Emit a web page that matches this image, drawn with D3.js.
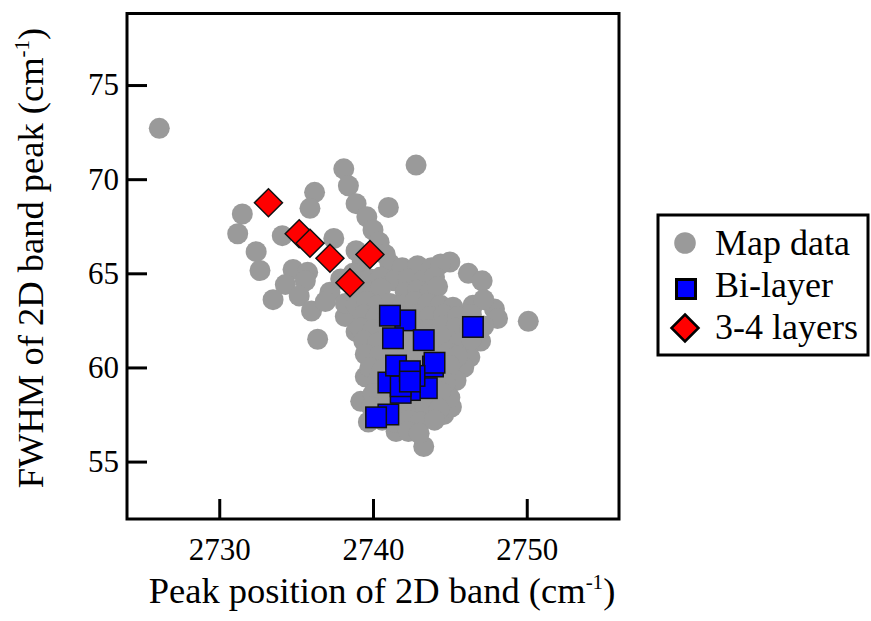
<!DOCTYPE html>
<html>
<head>
<meta charset="utf-8">
<script src="https://cdn.jsdelivr.net/npm/d3@7/dist/d3.min.js"></script>
<style>
  html, body { margin: 0; padding: 0; background: #fff; }
  svg { display: block; }
</style>
</head>
<body>
<svg id="chart" width="871" height="621"></svg>
<script>
// Raman 2D band: peak position vs FWHM
const xTicks = [2730, 2740, 2750];
const yTicks = [55, 60, 65, 70, 75];

const seriesNames = ["Map data", "Bi-layer", "3-4 layers"];

// [peak position, FWHM] for every mapped spot
const mapData = [
  [2726.1,72.7],
  [2738.1,70.55],[2742.8,70.75],[2738.4,69.65],[2738.9,68.7],[2736.2,69.3],[2735.9,68.45],[2741.0,68.5],
  [2731.5,68.15],[2731.2,67.1],[2734.1,67.0],[2737.45,66.85],[2732.4,66.15],[2732.65,65.15],[2734.8,65.2],[2735.75,65.05],
  [2734.3,64.4],[2735.6,64.6],[2733.5,63.6],[2735.2,63.8],[2736.0,63.0],[2736.4,61.5],[2737.2,64.0],[2736.9,63.5],[2738.2,62.7],[2738.9,61.9],
  [2739.6,68.0],[2740.0,67.3],[2740.4,66.65],[2740.8,66.0],[2741.1,65.5],[2738.9,66.2],[2739.3,65.6],[2738.7,65.0],[2737.9,64.7],[2738.2,63.4],
  [2745.0,65.6],[2746.2,65.0],[2747.1,64.6],[2746.5,63.3],[2747.9,63.1],[2748.1,62.6],[2750.1,62.45],[2747.0,61.4],[2746.3,60.55],[2745.9,60.0],[2745.4,59.3],
  [2743.3,55.8],[2739.7,57.1],[2739.2,58.2],[2739.5,59.5],[2741.5,56.6],[2744.6,57.5],[2745.1,57.9],[2745.0,58.4],
  [2741.9,65.3],[2742.9,65.4],[2743.8,65.3],[2744.4,65.5],
  [2739.8,64.7],[2740.5,64.8],[2741.4,64.6],[2742.3,64.7],[2743.2,64.6],[2744.0,64.8],
  [2739.0,64.1],[2739.8,64.0],[2740.5,64.2],[2742.1,64.0],[2742.9,64.1],[2743.7,64.0],[2744.2,64.3],
  [2738.9,63.3],[2739.6,63.5],[2740.3,63.3],[2741.1,63.4],[2741.9,63.3],[2742.7,63.5],[2743.6,63.4],[2744.4,63.3],[2745.2,63.2],[2747.2,63.6],
  [2739.4,62.8],[2740.2,62.7],[2741.0,62.9],[2741.9,62.7],[2742.8,62.8],[2743.7,62.7],[2744.6,62.8],[2745.5,62.7],[2746.4,62.8],
  [2739.2,62.1],[2740.0,62.0],[2740.9,62.2],[2741.8,62.0],[2742.7,62.1],[2743.6,62.0],[2744.5,62.2],[2745.4,62.1],[2746.3,62.0],[2747.2,62.2],
  [2739.4,61.4],[2740.3,61.3],[2741.2,61.5],[2742.1,61.3],[2743.0,61.4],[2743.9,61.3],[2744.8,61.5],[2745.6,61.3],[2746.4,61.5],
  [2739.5,60.7],[2740.4,60.6],[2741.3,60.8],[2742.2,60.6],[2743.1,60.7],[2744.0,60.6],[2744.9,60.8],[2745.5,60.6],
  [2739.8,60.0],[2740.6,59.9],[2741.5,60.1],[2742.4,59.9],[2743.3,60.0],[2744.2,59.9],[2745.0,60.1],
  [2740.3,59.3],[2741.2,59.2],[2742.1,59.4],[2743.0,59.2],[2743.9,59.3],[2744.7,59.2],
  [2740.0,58.6],[2740.9,58.7],[2741.8,58.5],[2742.7,58.6],[2743.6,58.5],[2744.4,58.7],
  [2739.9,57.9],[2740.7,57.8],[2741.6,57.9],[2742.5,57.8],[2743.4,57.9],[2744.3,57.8],
  [2740.6,57.2],[2741.4,57.1],[2742.3,57.2],[2743.1,57.1],[2744.0,57.2],
  [2742.3,56.6],[2743.0,56.5]
];

// bi-layer spots
const bilayerData = [
  [2742.1,62.5],[2741.1,62.75],[2743.3,61.45],[2741.3,61.55],[2746.5,62.15],
  [2743.9,60.05],[2744.0,60.25],[2743.5,58.9],[2742.4,58.8],[2741.8,58.65],
  [2741.0,59.2],[2741.8,59.0],[2742.7,59.55],[2741.5,60.1],[2742.4,59.8],[2742.4,59.25],
  [2741.0,57.5],[2740.2,57.35]
];

// 3-4 layer spots
const layers34Data = [
  [2733.2,68.75],[2735.2,67.1],[2735.9,66.6],[2737.2,65.8],[2739.8,66.0],[2738.5,64.5]
];

const FONT = "'Liberation Serif', Tinos, 'Times New Roman', Times, 'DejaVu Serif', serif";

const svg = d3.select("#chart");
const plot = { left: 127, top: 13.5, right: 619, bottom: 519 };

const x = d3.scaleLinear().domain([2724, 2756]).range([plot.left, plot.right]);
const y = d3.scaleLinear().domain([51.95, 78.8]).range([plot.bottom, plot.top]);

// markers
const gMarks = svg.append("g");
gMarks.selectAll("circle.map").data(mapData).join("circle")
  .attr("class", "map")
  .attr("cx", d => x(d[0])).attr("cy", d => y(d[1]))
  .attr("r", 10.5).attr("fill", "#9a9a9a");

const sq = 20.5;
gMarks.selectAll("rect.bi").data(bilayerData).join("rect")
  .attr("class", "bi")
  .attr("x", d => x(d[0]) - sq / 2).attr("y", d => y(d[1]) - sq / 2)
  .attr("width", sq).attr("height", sq)
  .attr("fill", "#0000ff").attr("stroke", "#111").attr("stroke-width", 1.5);

const dh = 14;
const diamond = (cx, cy, h) => `M${cx},${cy - h}L${cx + h},${cy}L${cx},${cy + h}L${cx - h},${cy}Z`;
gMarks.selectAll("path.tri").data(layers34Data).join("path")
  .attr("class", "tri")
  .attr("d", d => diamond(x(d[0]), y(d[1]), dh))
  .attr("fill", "#ff0000").attr("stroke", "#111").attr("stroke-width", 1.5);

// axes (ticks pointing inward)
const xAxis = d3.axisBottom(x).tickValues(xTicks).tickFormat(d3.format("d"))
  .tickSizeInner(-20).tickSizeOuter(0).tickPadding(19);
const yAxis = d3.axisLeft(y).tickValues(yTicks).tickFormat(d3.format("d"))
  .tickSizeInner(-20).tickSizeOuter(0).tickPadding(8);

const gx = svg.append("g").attr("transform", `translate(0,${plot.bottom})`).call(xAxis);
const gy = svg.append("g").attr("transform", `translate(${plot.left},0)`).call(yAxis);
[gx, gy].forEach(g => {
  g.attr("font-family", null).attr("font-size", null);
  g.select(".domain").remove();
  g.selectAll(".tick line").attr("stroke", "#000").attr("stroke-width", 3);
  g.selectAll(".tick text").attr("font-size", 31).attr("fill", "#000");
});

// frame
svg.append("rect")
  .attr("x", plot.left).attr("y", plot.top)
  .attr("width", plot.right - plot.left).attr("height", plot.bottom - plot.top)
  .attr("fill", "none").attr("stroke", "#000").attr("stroke-width", 3);

// axis titles
const xTitle = svg.append("text")
  .attr("x", 382).attr("y", 603).attr("text-anchor", "middle").attr("font-size", 36.5);
xTitle.append("tspan").text("Peak position of 2D band (cm");
xTitle.append("tspan").attr("font-size", 21).attr("dy", -14).text("-1");
xTitle.append("tspan").attr("dy", 14).text(")");

const yTitle = svg.append("text")
  .attr("transform", "translate(43,258) rotate(-90)")
  .attr("text-anchor", "middle").attr("font-size", 36.5);
yTitle.append("tspan").text("FWHM of 2D band peak (cm");
yTitle.append("tspan").attr("font-size", 21).attr("dy", -14).text("-1");
yTitle.append("tspan").attr("dy", 14).text(")");

// legend
const lg = svg.append("g");
lg.append("rect").attr("x", 658).attr("y", 215).attr("width", 210).attr("height", 140)
  .attr("fill", "#fff").attr("stroke", "#000").attr("stroke-width", 3);
const rows = [243, 289, 328];
const baselines = [255, 297, 338.5];
lg.append("circle").attr("cx", 685).attr("cy", rows[0]).attr("r", 10.8).attr("fill", "#9a9a9a");
lg.append("rect").attr("x", 686 - 9.5).attr("y", rows[1] - 9.5).attr("width", 19).attr("height", 19)
  .attr("fill", "#0000ff").attr("stroke", "#000").attr("stroke-width", 3);
lg.append("path").attr("d", diamond(685, rows[2], 13.5))
  .attr("fill", "#ff0000").attr("stroke", "#000").attr("stroke-width", 2.5);
lg.selectAll("text").data(seriesNames).join("text")
  .attr("x", 715).attr("y", (d, i) => baselines[i]).attr("font-size", 36).text(d => d);

// one serif face for every label
svg.selectAll("text").attr("font-family", FONT).style("font-family", FONT).attr("fill", "#000");
</script>
</body>
</html>
